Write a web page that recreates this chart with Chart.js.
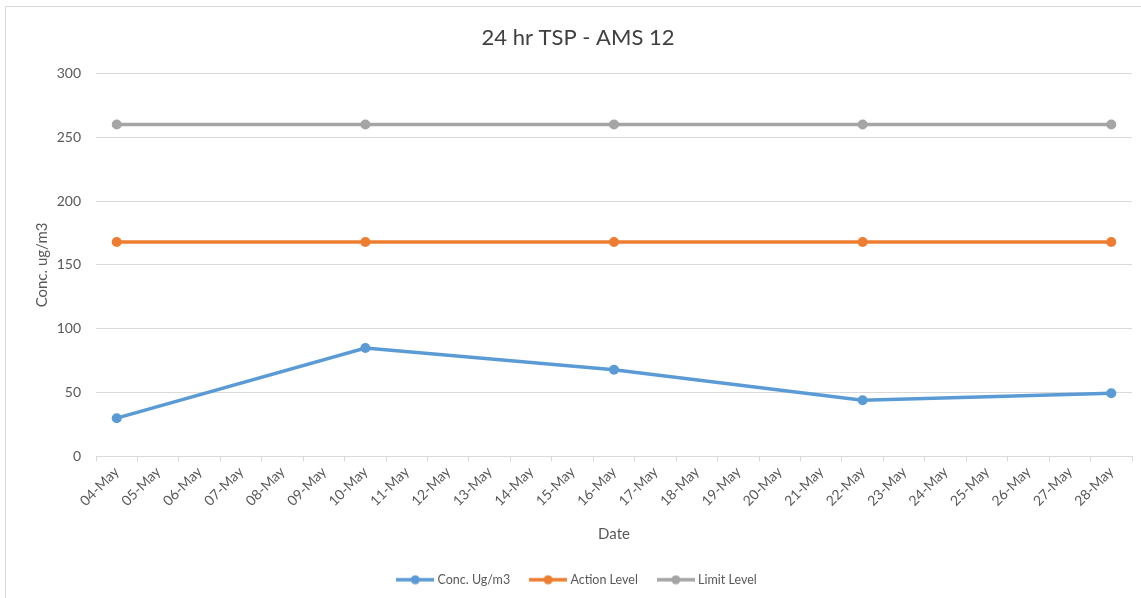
<!DOCTYPE html>
<html>
<head>
<meta charset="utf-8">
<title>24 hr TSP - AMS 12</title>
<script src="https://cdn.jsdelivr.net/npm/chart.js@4.4.1/dist/chart.umd.min.js"></script>
<style>
  html, body { margin: 0; padding: 0; background: #fff; }
  #wrap { position: relative; width: 1141px; height: 598px; overflow: hidden; }
  #frame {
    position: absolute; left: 5px; top: 6px; width: 1150px; height: 610px;
    border: 1px solid #d9d9d9; pointer-events: none;
  }
</style>
</head>
<body>
<div id="wrap">
  <canvas id="chart" width="1141" height="598"></canvas>
  <div id="frame"></div>
</div>
<script>
// all days shown on the x axis
const dayLabels = [
  "04-May", "05-May", "06-May", "07-May", "08-May", "09-May", "10-May",
  "11-May", "12-May", "13-May", "14-May", "15-May", "16-May", "17-May",
  "18-May", "19-May", "20-May", "21-May", "22-May", "23-May", "24-May",
  "25-May", "26-May", "27-May", "28-May"
];
// sampling days
const sampleDays = ["04-May", "10-May", "16-May", "22-May", "28-May"];
const concValues = [30, 85, 68, 44, 49.5];
const actionValues = [168, 168, 168, 168, 168];
const limitValues = [260, 260, 260, 260, 260];
const yTicks = [0, 50, 100, 150, 200, 250, 300];

const FONT = "Lato, 'Liberation Sans', sans-serif";
const TEXT = "#595959";
const GRID = "#d9d9d9";

// little line + dot picture used in the legend
const legendIcon = (color) => {
  const c = document.createElement("canvas");
  c.width = 38;
  c.height = 10;
  const g = c.getContext("2d");
  g.strokeStyle = color;
  g.lineWidth = 3.5;
  g.beginPath();
  g.moveTo(0, 5);
  g.lineTo(38, 5);
  g.stroke();
  g.fillStyle = color;
  g.beginPath();
  g.arc(19, 5, 4.5, 0, Math.PI * 2);
  g.fill();
  return c;
};

const makeSeries = (label, values, color) => ({
  label: label,
  data: sampleDays.map((d, i) => ({ x: d, y: values[i] })),
  borderColor: color,
  backgroundColor: color,
  borderWidth: 3.5,
  pointRadius: 5,
  pointHoverRadius: 5,
  pointBorderWidth: 0,
  tension: 0,
  icon: legendIcon(color),
});

const datasets = [
  makeSeries("Conc. Ug/m3", concValues, "#5B9BD5"),
  makeSeries("Action Level", actionValues, "#ED7D31"),
  makeSeries("Limit Level", limitValues, "#A5A5A5"),
];

new Chart(document.getElementById("chart"), {
  type: "line",
  data: { labels: dayLabels, datasets: datasets },
  options: {
    responsive: false,
    animation: false,
    layout: { padding: { left: 24, right: 9, top: 0, bottom: 2 } },
    plugins: {
      title: {
        display: true,
        text: "24 hr TSP - AMS 12",
        color: "#404040",
        font: { family: FONT, size: 22, weight: "normal" },
        padding: { top: 25, bottom: 22 },
      },
      legend: {
        position: "bottom",
        labels: {
          usePointStyle: true,
          pointStyleWidth: 32,
          padding: 22,
          color: TEXT,
          font: { family: FONT, size: 12.5 },
          generateLabels: (chart) =>
            chart.data.datasets.map((ds, i) => ({
              text: ds.label,
              pointStyle: ds.icon,
              fillStyle: ds.borderColor,
              strokeStyle: ds.borderColor,
              lineWidth: 0,
              fontColor: TEXT,
              datasetIndex: i,
            })),
        },
      },
      tooltip: { enabled: false },
    },
    scales: {
      x: {
        type: "category",
        offset: true,
        grid: {
          offset: true,
          drawOnChartArea: false,
          drawTicks: true,
          tickLength: 5,
          color: GRID,
        },
        border: { display: true, color: GRID },
        ticks: {
          autoSkip: false,
          minRotation: 45,
          maxRotation: 45,
          padding: 2,
          color: TEXT,
          font: { family: FONT, size: 14 },
        },
        title: {
          display: true,
          text: "Date",
          color: TEXT,
          font: { family: FONT, size: 15 },
          padding: { top: 4, bottom: 8 },
        },
        afterFit: (scale) => {
          scale.height = 95;
        },
      },
      y: {
        min: 0,
        max: 300,
        afterBuildTicks: (scale) => {
          scale.ticks = yTicks.map((v) => ({ value: v }));
        },
        grid: { color: GRID, drawTicks: false },
        border: { display: false },
        ticks: {
          padding: 15,
          color: TEXT,
          font: { family: FONT, size: 14 },
        },
        title: {
          display: true,
          text: "Conc. ug/m3",
          color: TEXT,
          font: { family: FONT, size: 15 },
          padding: { top: 9, bottom: 0 },
        },
        afterFit: (scale) => {
          scale.width = 72;
        },
      },
    },
  },
});
</script>
</body>
</html>
